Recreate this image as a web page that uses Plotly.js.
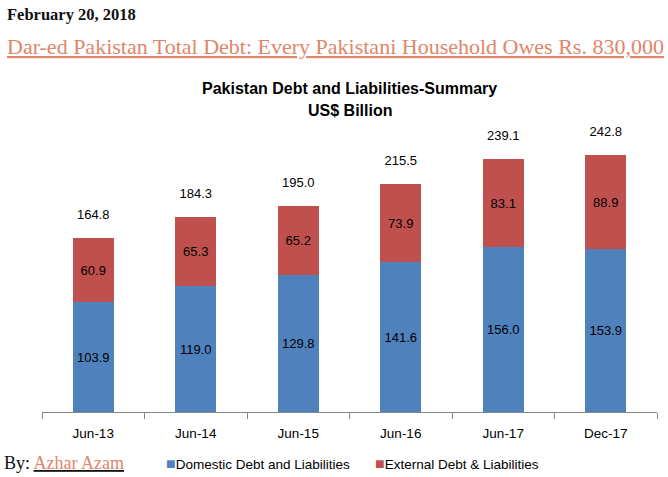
<!DOCTYPE html>
<html>
<head>
<meta charset="utf-8">
<script src="https://cdn.plot.ly/plotly-3.0.1.min.js"></script>
<style>
html,body{margin:0;padding:0;background:#fff;}
#chart{width:668px;height:477px;}
</style>
</head>
<body>
<div id="chart"></div>
<script>
const categories = ["Jun-13", "Jun-14", "Jun-15", "Jun-16", "Jun-17", "Dec-17"];
const domestic = [103.9, 119.0, 129.8, 141.6, 156.0, 153.9];
const external = [60.9, 65.3, 65.2, 73.9, 83.1, 88.9];
const totals = [164.8, 184.3, 195.0, 215.5, 239.1, 242.8];
const seriesNames = ["Domestic Debt and Liabilities", "External Debt & Liabilities"];

const blue = "#4F81BD";
const red = "#C0504D";
const sans = "Liberation Sans, Arial, sans-serif";
const serif = "Liberation Serif, Times New Roman, serif";
const labelFont = {family: sans, size: 13, color: "#000"};

const traces = [
  {
    type: "bar", name: seriesNames[0],
    x: categories, y: domestic, marker: {color: blue},
    text: domestic.map(v => v.toFixed(1)), textposition: "inside",
    insidetextanchor: "middle", textfont: labelFont, hoverinfo: "skip", showlegend: false
  },
  {
    type: "bar", name: seriesNames[1],
    x: categories, y: external, marker: {color: red},
    text: external.map(v => v.toFixed(1)), textposition: "inside",
    insidetextanchor: "middle", textfont: labelFont, hoverinfo: "skip", showlegend: false
  },
  {
    type: "scatter", mode: "markers+text", x: categories, y: totals,
    marker: {size: 24, opacity: 0},
    text: totals.map(v => v.toFixed(1)), textposition: "top center",
    textfont: labelFont, showlegend: false, hoverinfo: "skip", cliponaxis: false
  }
];

const layout = {
  width: 668, height: 477,
  margin: {l: 42, r: 11, t: 95, b: 65, autoexpand: false},
  paper_bgcolor: "#fff", plot_bgcolor: "#fff",
  barmode: "stack", bargap: 0.6,
  font: {family: sans, color: "#000"},
  xaxis: {
    type: "category", showgrid: false, zeroline: false,
    showline: true, linecolor: "#868686", linewidth: 1,
    ticks: "outside", tickson: "boundaries", ticklen: 6, tickcolor: "#868686",
    ticklabelstandoff: 9,
    tickfont: {family: sans, size: 13.5, color: "#000"}
  },
  yaxis: {range: [0, 300], visible: false, fixedrange: true},
  showlegend: false,
  annotations: [
    {xref: "paper", yref: "paper", x: 0.5, y: 1.0, yanchor: "middle", yshift: 7, showarrow: false,
     text: "<b>Pakistan Debt and Liabilities-Summary</b>",
     font: {family: sans, size: 16, color: "#000"}},
    {xref: "paper", yref: "paper", x: 0.5, y: 1.0, yanchor: "middle", yshift: -15, showarrow: false,
     text: "<b>US$ Billion</b>",
     font: {family: sans, size: 16, color: "#000"}},
    {xref: "paper", yref: "paper", x: 0, xshift: -37, y: 1.0, yshift: 81, xanchor: "left", yanchor: "middle", showarrow: false,
     text: "<b>February 20, 2018</b>",
     font: {family: serif, size: 16.5, color: "#111"}},
    {xref: "paper", yref: "paper", x: 0, xshift: -37, y: 1.0, yshift: 49, xanchor: "left", yanchor: "middle", showarrow: false,
     text: "<u>Dar-ed Pakistan Total Debt: Every Pakistani Household Owes Rs. 830,000</u>",
     font: {family: serif, size: 22, color: "#E0866A"}},
    {xref: "paper", yref: "paper", x: 0, xshift: -40, y: 0, yshift: -51, xanchor: "left", yanchor: "middle", showarrow: false,
     text: "By: <u><span style=\"color:#E0866A\">Azhar Azam</span></u>",
     font: {family: serif, size: 18, color: "#111"}},
    {xref: "paper", yref: "paper", x: 0, xshift: 122, y: 0, yshift: -51, xanchor: "left", yanchor: "middle", showarrow: false,
     text: "<span style=\"color:" + blue + ";font-size:16px\">■</span>" + seriesNames[0],
     font: {family: sans, size: 13.5, color: "#000"}},
    {xref: "paper", yref: "paper", x: 0, xshift: 331, y: 0, yshift: -51, xanchor: "left", yanchor: "middle", showarrow: false,
     text: "<span style=\"color:" + red + ";font-size:16px\">■</span>" + seriesNames[1],
     font: {family: sans, size: 13.5, color: "#000"}}
  ]
};

Plotly.newPlot("chart", traces, layout, {displayModeBar: false, staticPlot: true});
</script>
</body>
</html>
